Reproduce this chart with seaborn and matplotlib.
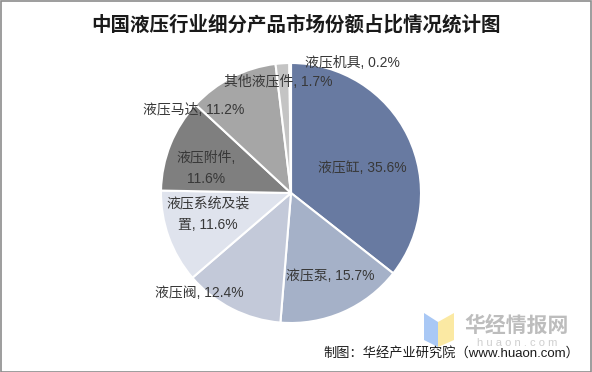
import numpy as np
import matplotlib
matplotlib.use("Agg")
import matplotlib.pyplot as plt
from matplotlib.patches import Polygon, Rectangle
import seaborn as sns

# data
categories = ["液压缸", "液压泵", "液压阀", "液压系统及装\n置", "液压附件,\n", "液压马达", "其他液压件", "液压机具"]
shares = [35.6, 15.7, 12.4, 11.6, 11.6, 11.2, 1.7, 0.2]
colors = ["#687aa1", "#a5b1c8", "#c3c9d9", "#dfe3ed", "#7f7f7f", "#a6a6a6", "#c4c4c4", "#dedede"]

# label centres, in units of pie radius
label_xy = [(0.546, 0.192), (0.30, -0.638), (-0.708, -0.769), (-0.64, -0.165),
            (-0.654, 0.188), (-0.746, 0.638), (-0.10, 0.854), (0.47, 1.0)]

sns.set_theme(style="white")
plt.rcParams['font.family'] = ['Liberation Sans', 'Noto Sans CJK SC', 'DejaVu Sans']

fig = plt.figure(figsize=(5.92, 3.72), dpi=100)
fig.patch.set_facecolor("white")
ax = fig.add_axes([161 / 592, 49 / 372, 260 / 592, 260 / 372])

wedges, _ = ax.pie(shares, colors=colors, startangle=90, counterclock=False,
                   wedgeprops=dict(edgecolor="white", linewidth=1.5))
ax.set_xlim(-1, 1)
ax.set_ylim(-1, 1)
ax.set_aspect("equal")
ax.axis("off")

for name, val, (x, y) in zip(categories, shares, label_xy):
    if name.endswith("\n"):
        txt = name + f"{val:.1f}%"
    elif name.endswith("\n置"):
        txt = name + f", {val:.1f}%"
    else:
        txt = f"{name}, {val:.1f}%"
    ax.text(x, y, txt, ha="center", va="center", fontsize=10, color="#383838",
            linespacing=1.7, clip_on=False)

# title
fig.text(0.5, 1 - 25 / 372, "中国液压行业细分产品市场份额占比情况统计图", ha="center", va="center",
         fontsize=14, fontweight="bold", color="#1a1a1a",
         family=['Noto Sans CJK SC', 'DejaVu Sans'])

# watermark logo
W, H = 592, 372
def fxy(px, py):
    return (px / W, 1 - py / H)
fig.patches.append(Polygon([fxy(424, 313), fxy(438, 322), fxy(438, 347), fxy(424, 340)],
                           closed=True, transform=fig.transFigure, facecolor="#a9c8f5", edgecolor="none"))
fig.patches.append(Polygon([fxy(438, 322), fxy(454, 313), fxy(454, 340), fxy(438, 347)],
                           closed=True, transform=fig.transFigure, facecolor="#fbe9a3", edgecolor="none"))
fig.text(517 / W, 1 - 325 / H, "华经情报网", ha="center", va="center", fontsize=15,
         fontweight="bold", color="#bdbdbd", family=['Noto Sans CJK SC', 'DejaVu Sans'])
fig.text(517 / W, 1 - 343 / H, "h u a o n . c o m", ha="center", va="center", fontsize=8,
         color="#cfcfcf")

# source
fig.text(579 / W, 1 - 353 / H, "制图：华经产业研究院（www.huaon.com）", ha="right", va="center",
         fontsize=9.5, color="#1a1a1a")

# frame
fig.patches.append(Rectangle((0.001, 0.001), 0.998, 0.997, transform=fig.transFigure,
                             fill=False, edgecolor="#8c8c8c", linewidth=1.2))

plt.savefig("out.png", dpi=100)
